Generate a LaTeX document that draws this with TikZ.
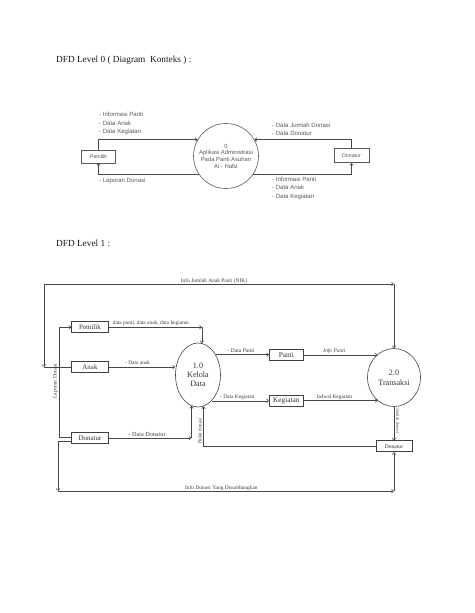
\documentclass[tikz,border=0pt]{standalone}
\usepackage{fontspec}
\setmainfont{Liberation Serif}
\newfontfamily\arialf{Liberation Sans}
\usetikzlibrary{arrows.meta,shapes.geometric,calc}
\def\pxl{1.2911pt}
\begin{document}
\begin{tikzpicture}[x=1.2911pt,y=-1.2911pt,
  line/.style={draw=black!72, line width=0.75pt},
  arr/.style={line, -{Straight Barb[length=2.6pt,width=4.6pt]}},
  box0/.style={draw=black!65, line width=0.75pt, rectangle, inner sep=0pt,
     font=\arialf\fontsize{6.8}{8}\selectfont, text=black!65},
  lab0/.style={inner sep=0pt, anchor=base west, font=\arialf\fontsize{7.8}{9}\selectfont, text=black!65},
  box1/.style={draw=black!75, line width=0.75pt, rectangle, inner sep=0pt,
     minimum width={36.6*\pxl}, minimum height={11*\pxl},
     font=\fontsize{9}{10}\selectfont, text=black!80},
  lab1/.style={inner sep=0pt, anchor=base west, font=\fontsize{7}{8}\selectfont, text=black!75},
  title/.style={inner sep=0pt, anchor=base west, font=\fontsize{12}{14}\selectfont, text=black!90}
]
\useasboundingbox (0,0) rectangle (474,613);
\fill[white] (0,0) rectangle (474,613);

% ---------------- Level 0 ----------------
\node[title] (t0) at (56,62.7) {DFD Level 0 ( Diagram\ \ Konteks ) :};

\node[box0, minimum width={34*\pxl}, minimum height={12.8*\pxl}] (pem0) at (98.5,156.4) {Pemilik};
\node[box0, minimum width={35.3*\pxl}, minimum height={14.4*\pxl}] (don0) at (351.5,155.5) {Donatur};
\node[circle, draw=black!65, line width=0.75pt, minimum size={65*\pxl}, inner sep=0pt,
      align=center, font=\arialf\fontsize{7.6}{8.6}\selectfont, text=black!65] (c0) at (226,156)
      {0\\Aplikasi Administrasi\\Pada Panti Asuhan\\Al - Hafiz};

\draw[arr] (pem0.north) |- (c0.150);
\draw[arr] (c0.214) -| (pem0.south);
\draw[arr] (don0.north) |- (c0.30);
\draw[arr] (c0.326) -| (don0.south);

\node[lab0] (a1) at (99,116.8) {- Informasi Panti};
\node[lab0] (a2) at (99,125) {- Data Anak};
\node[lab0] (a3) at (99,133.2) {- Data Kegiatan};
\node[lab0] (a4) at (99,182.6) {- Laporan Donasi};
\node[lab0] (b1) at (272,127.5) {- Data Jumlah Donasi};
\node[lab0] (b2) at (272,135.7) {- Data Donatur};
\node[lab0] (b3) at (272,181.7) {- Informasi Panti};
\node[lab0] (b4) at (272,189.9) {- Data Anak};
\node[lab0] (b5) at (272,198.1) {- Data Kegiatan};

% ---------------- Level 1 ----------------
\node[title] (t1) at (56,246) {DFD Level 1 :};

\node[box1] (pem) at (90,327.2) {Pemilik};
\node[box1] (anak) at (90,367) {Anak};
\node[box1, minimum height={10.6*\pxl}] (ldon) at (90,438) {Donatur};
\node[box1, minimum width={34*\pxl}, minimum height={11.7*\pxl}, font=\fontsize{9.4}{10}\selectfont] (panti) at (286.3,354.8) {Panti};
\node[box1, minimum width={34*\pxl}, minimum height={11*\pxl}, font=\fontsize{9.4}{10}\selectfont] (keg) at (286.3,400.5) {Kegiatan};
\node[box1, minimum width={35.7*\pxl}, minimum height={11*\pxl}, font=\fontsize{7.2}{8}\selectfont] (rdon) at (394,446.2) {Donatur};

\node[ellipse, draw=black!75, line width=0.75pt, minimum width={45*\pxl}, minimum height={64*\pxl},
      inner sep=0pt, align=center, font=\fontsize{10.5}{12}\selectfont, text=black!80] (k1) at (198,375)
      {1.0\\Kelola\\Data};
\node[ellipse, draw=black!75, line width=0.75pt, minimum width={53*\pxl}, minimum height={58*\pxl},
      inner sep=0pt, align=center, font=\fontsize{10.5}{12.5}\selectfont, text=black!80] (t2) at (394,377.5)
      {2.0\\Transaksi};

\coordinate (tl) at (44,284);
\coordinate (bl) at (58,491);

% top loop: Info Jumlah Anak Panti
\draw[line] (anak.west) -- (anak.west -| tl);
\draw[arr] (tl) -- (anak.west -| tl);
\draw[arr] (tl) -- (tl -| t2.north);
\draw[arr] (tl -| t2.north) -- (t2.north);

% Pemilik -> 1.0
\draw[arr] (pem.east) -- (pem.east -| k1.83);
\draw[arr] (pem.east -| k1.83) -- (k1.83);

% Anak -> 1.0
\draw[arr] (anak.east) -- (anak.east -| k1.west);

% Donatur -> 1.0
\draw[arr] (ldon.east) -- (ldon.east -| k1.258);
\draw[arr] (ldon.east -| k1.258) -- (k1.258);

% Laporan Donasi: Donatur -> Pemilik
\draw[arr] ([yshift=1.3pt]ldon.west) -- ++(-11.7,0) |- (pem.west);

% Bukti donasi: right Donatur -> 1.0
\draw[arr] (rdon.west) -- (rdon.west -| k1.280) -- (k1.280);

% 1.0 -> Panti, Kegiatan
\draw[arr] (k1.49) -- (k1.49 -| panti.west);
\draw[arr] (k1.298) -- (k1.298 -| keg.west);

% Panti, Kegiatan -> 2.0
\draw[arr] (panti.east) -- (panti.east -| t2.126);
\draw[arr] (keg.east) -- (keg.east -| t2.235);

% 2.0 -> right Donatur
\draw[arr] (t2.south) -- (rdon.north);

% bottom loop: Info Donasi
\draw[arr] ([yshift=-4.5pt]ldon.west) -| (bl);
\draw[arr] (bl) -- (bl -| rdon.south);
\draw[arr] (bl -| rdon.south) -- (rdon.south);

% labels
\node[lab1] (n1) at (180.7,282.4) {Info Jumlah Anak Panti (NIK)};
\node[lab1] (n2) at (112.7,324.6) {data panti, data anak, data kegiatan};
\node[lab1] (n3) at (125,364.6) {- Data anak};
\node[lab1, font=\fontsize{8}{9}\selectfont] (n4) at (128.3,436.3) {- Data Donatur};
\node[lab1, font=\fontsize{7.3}{8}\selectfont] (n5) at (227.3,352.6) {- Data Panti};
\node[lab1, font=\itshape\fontsize{7}{8}\selectfont] (n6) at (323.3,352.3) {Info Panti};
\node[lab1] (n7) at (220,398.6) {- Data Kegiatan};
\node[lab1] (n8) at (316,398.2) {Jadwal Kegiatan};
\node[lab1] (n9) at (185,489.3) {Info Donasi Yang Disumbangkan};
\node[inner sep=0pt, rotate=90, font=\fontsize{7}{8}\selectfont, text=black!75] (n10) at (55.3,381) {Laporan Donasi};
\node[inner sep=0pt, rotate=90, font=\fontsize{6.5}{8}\selectfont, text=black!75] (n11) at (199.8,431) {Bukti donasi};
\node[inner sep=0pt, rotate=-90, font=\fontsize{5.5}{7}\selectfont, text=black!75] (n12) at (397.8,421) {Jumlah donasi};
\end{tikzpicture}
\end{document}
